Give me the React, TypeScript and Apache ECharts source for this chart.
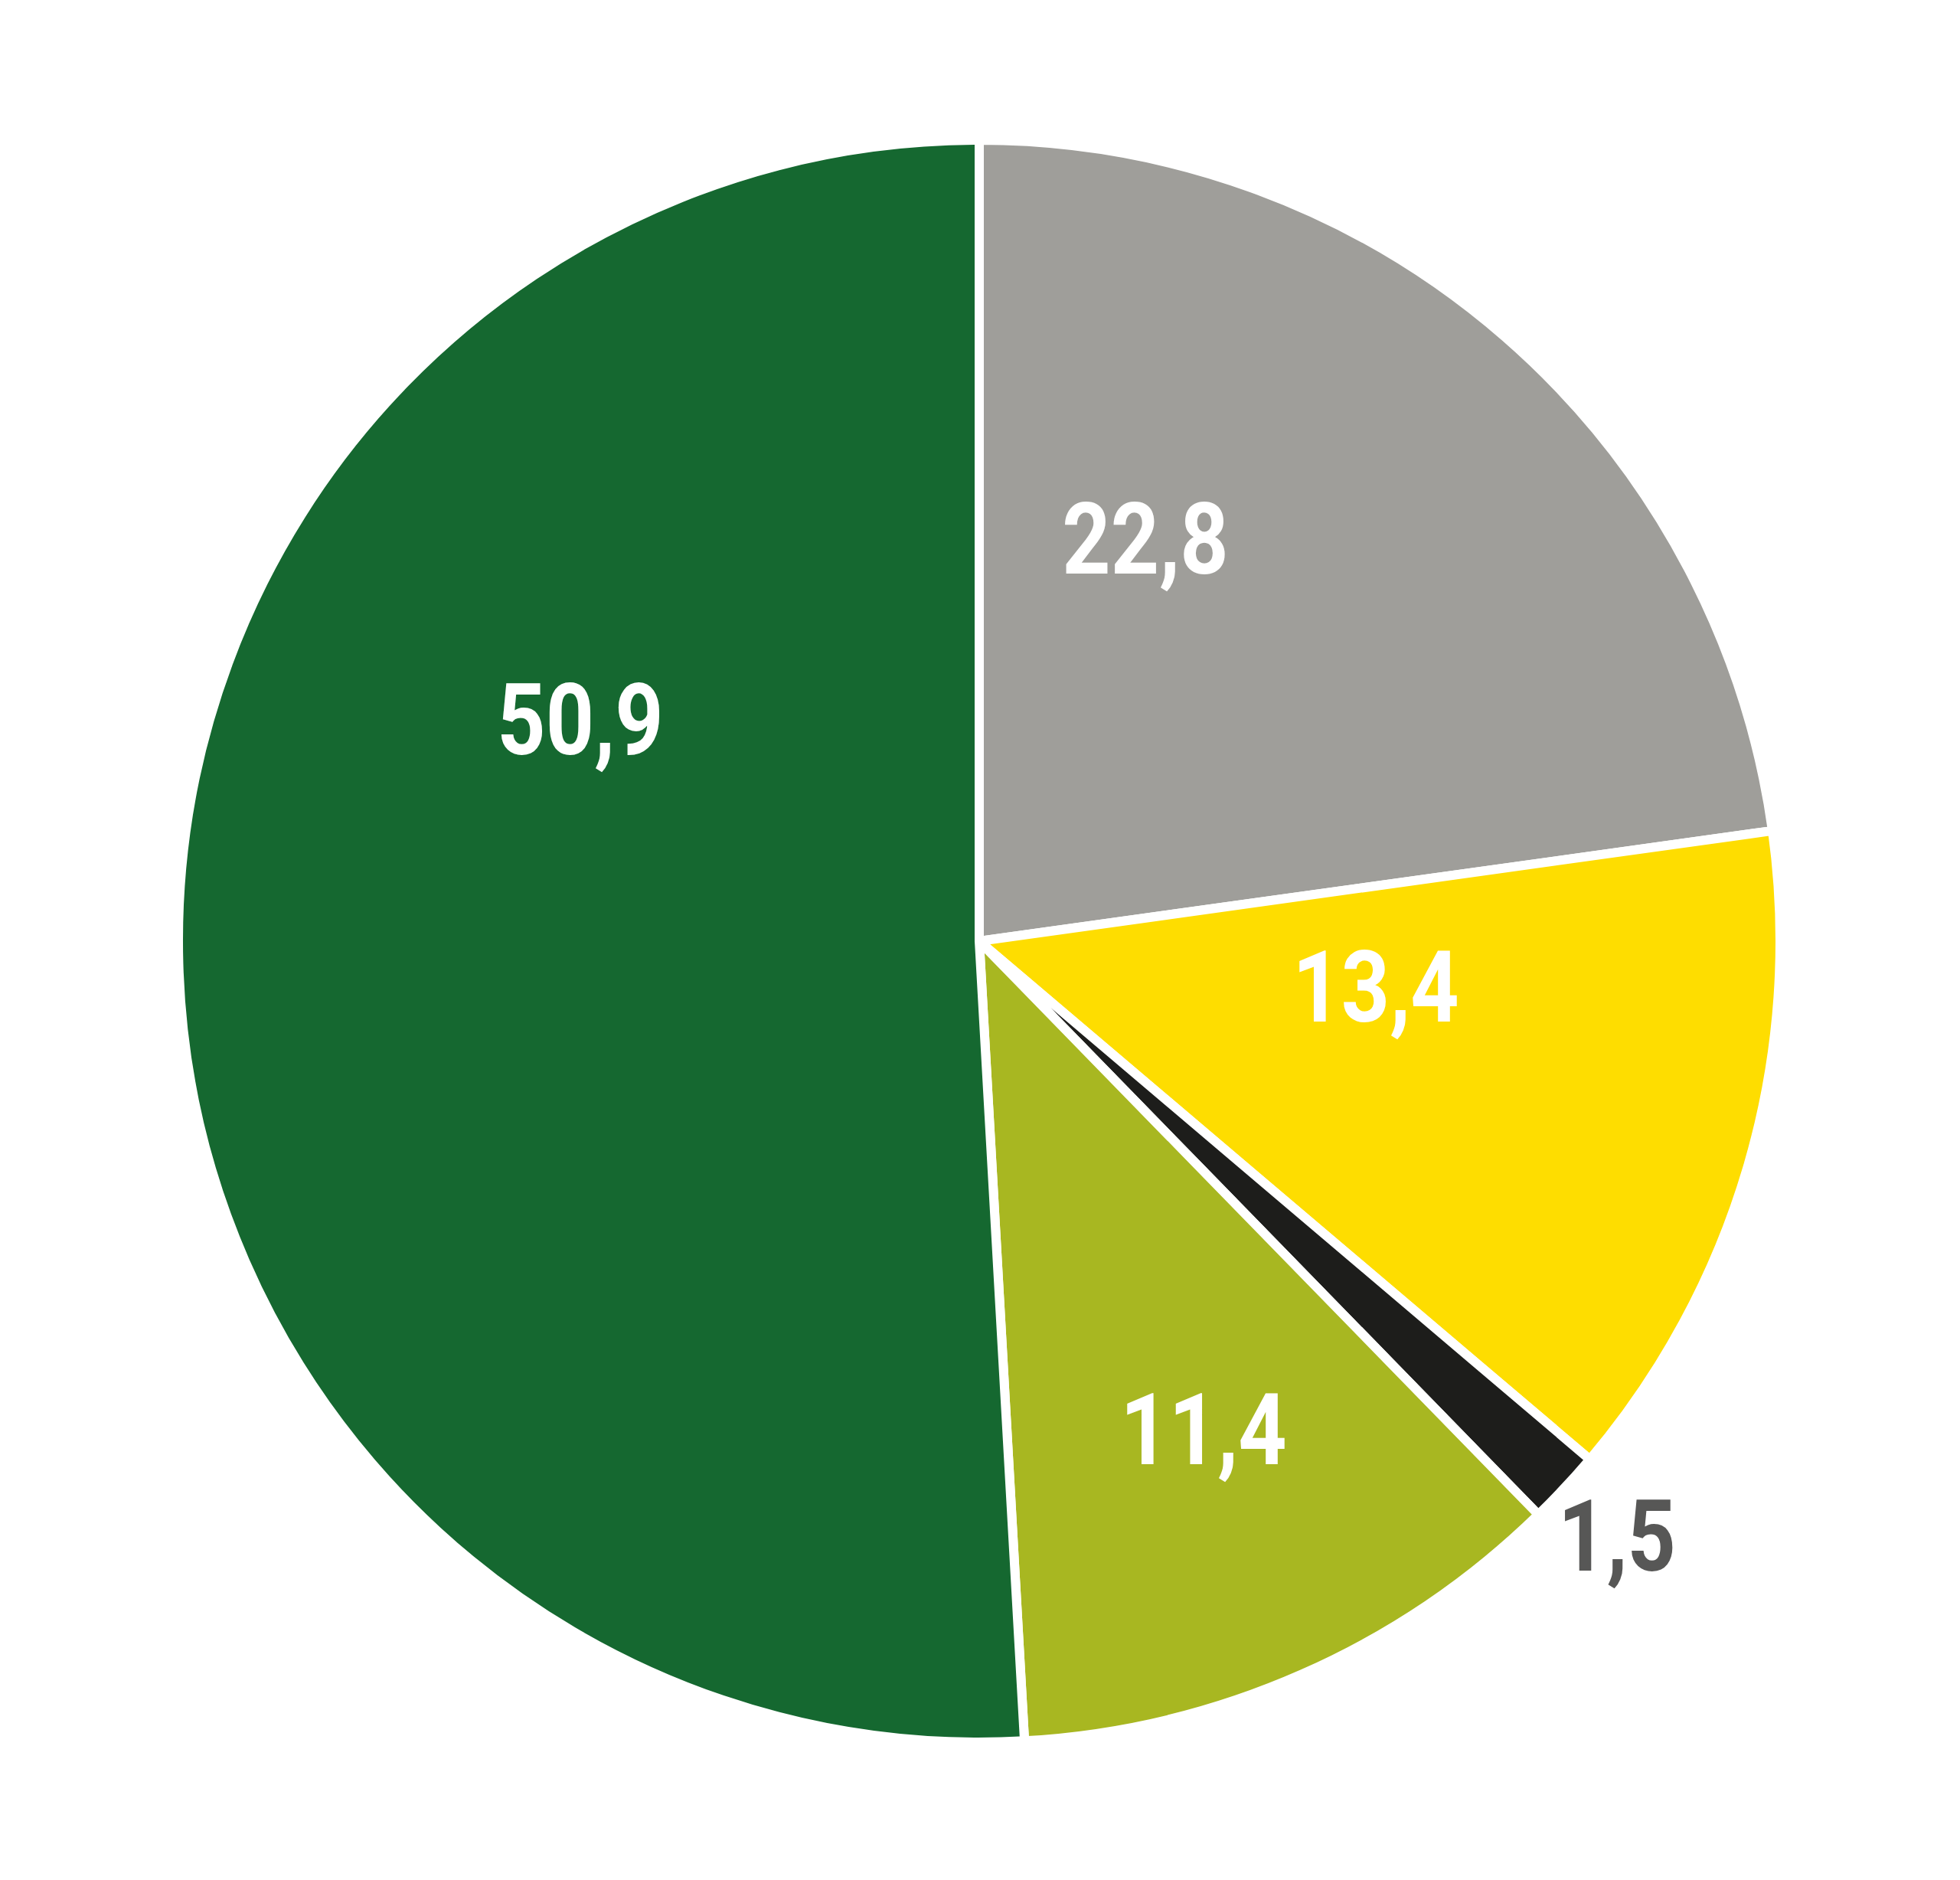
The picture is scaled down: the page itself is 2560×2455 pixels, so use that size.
import React, { useEffect, useRef } from "react";
import * as echarts from "echarts";

const categories = ["A", "B", "C", "D", "E"];
const values = [22.8, 13.4, 1.5, 11.4, 50.9];
const labelTexts = ["22,8", "13,4", "1,5", "11,4", "50,9"];
const colors = ["#9f9e9a", "#fedd00", "#1d1d1b", "#a8b721", "#156830"];
const labelColors = ["#ffffff", "#ffffff", "#575756", "#ffffff", "#ffffff"];
// label centres (px) in the 2560x2455 canvas
const labelPos: [number, number][] = [
  [1496, 704],
  [1797, 1289],
  [2112, 2006],
  [1572, 1867],
  [758, 940],
];

const W = 2560;
const H = 2455;

export default function App() {
  const ref = useRef<HTMLDivElement>(null);
  useEffect(() => {
    document.body.style.margin = "0";
    const chart = echarts.init(ref.current!, null, { renderer: "svg" });
    chart.setOption({
      animation: false,
      backgroundColor: "#ffffff",
      series: [
        {
          type: "pie",
          center: [1279, 1229],
          radius: 1046,
          startAngle: 90,
          clockwise: true,
          z: 1,
          label: { show: false },
          labelLine: { show: false },
          itemStyle: { borderColor: "#ffffff", borderWidth: 12 },
          emphasis: { disabled: true },
          data: categories.map((c, i) => ({
            name: c,
            value: values[i],
            itemStyle: { color: colors[i] },
          })),
        },
      ],
      graphic: labelTexts.map((t, i) => ({
        type: "text",
        x: labelPos[i][0],
        y: labelPos[i][1],
        scaleX: 0.85,
        z: 100,
        zlevel: 1,
        style: {
          text: t,
          fill: labelColors[i],
          font: "bold 130px Roboto, 'Liberation Sans', Arial, sans-serif",
          align: "center",
          verticalAlign: "middle",
        },
      })),
    });
    return () => chart.dispose();
  }, []);
  return <div ref={ref} style={{ width: W, height: H }} />;
}
